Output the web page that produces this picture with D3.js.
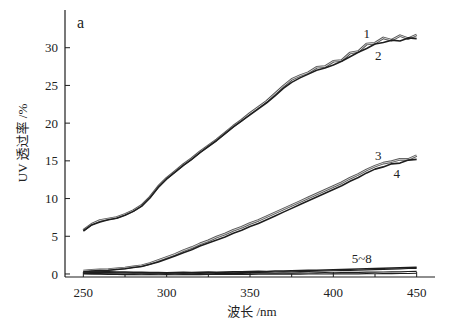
<!DOCTYPE html>
<html>
<head>
<meta charset="utf-8">
<script src="https://cdn.jsdelivr.net/npm/d3@7/dist/d3.min.js"></script>
<style>
  html, body { margin: 0; padding: 0; background: #fff; }
  svg { display: block; }
  text { font-family: "Liberation Serif", "Times New Roman", "Noto Sans CJK SC", serif; fill: #222; }
</style>
</head>
<body>
<svg id="chart" width="460" height="322"></svg>
<script>
// Wavelength grid (nm), 5 nm steps
const wavelengths = d3.range(250, 451, 5);

// UV transmittance (%) per sample
const curve1 = [5.8, 6.6, 7.1, 7.3, 7.5, 7.9, 8.4, 9.1, 10.2, 11.6, 12.7, 13.6, 14.5, 15.3, 16.2, 17.0, 17.8, 18.7, 19.6, 20.4,
  21.3, 22.1, 22.9, 23.9, 24.9, 25.8, 26.3, 26.7, 27.4, 27.5, 28.2, 28.3, 29.3, 29.5, 30.5, 30.6, 31.3, 31.0, 31.6, 31.2, 31.7];
const curve2 = [5.7, 6.5, 6.9, 7.2, 7.4, 7.8, 8.3, 9.0, 10.1, 11.5, 12.6, 13.5, 14.4, 15.2, 16.1, 16.9, 17.7, 18.6, 19.5, 20.3,
  21.1, 21.9, 22.7, 23.6, 24.6, 25.4, 26.0, 26.5, 27.0, 27.3, 27.7, 28.2, 28.8, 29.4, 29.9, 30.5, 30.7, 31.0, 30.9, 31.3, 31.2];
const curve3 = [0.4, 0.5, 0.55, 0.6, 0.7, 0.8, 0.95, 1.1, 1.4, 1.8, 2.2, 2.6, 3.1, 3.5, 4.0, 4.4, 4.9, 5.3, 5.8, 6.2,
  6.7, 7.1, 7.6, 8.1, 8.6, 9.1, 9.6, 10.1, 10.6, 11.1, 11.6, 12.1, 12.7, 13.2, 13.8, 14.3, 14.7, 14.9, 15.2, 15.2, 15.7];
const curve4 = [0.3, 0.4, 0.45, 0.5, 0.6, 0.7, 0.85, 1.0, 1.3, 1.6, 2.0, 2.4, 2.8, 3.2, 3.7, 4.1, 4.5, 4.9, 5.4, 5.8,
  6.3, 6.7, 7.2, 7.7, 8.2, 8.7, 9.2, 9.7, 10.2, 10.7, 11.2, 11.7, 12.3, 12.8, 13.4, 13.9, 14.2, 14.6, 14.7, 15.1, 15.2];
const curve5 = [0.3, 0.32, 0.3, 0.28, 0.27, 0.25, 0.24, 0.22, 0.2, 0.2, 0.18, 0.2, 0.22, 0.2, 0.24, 0.25, 0.23, 0.27, 0.3, 0.28,
  0.32, 0.35, 0.33, 0.38, 0.4, 0.42, 0.45, 0.48, 0.5, 0.52, 0.55, 0.6, 0.62, 0.65, 0.7, 0.72, 0.75, 0.8, 0.82, 0.85, 0.9];
const curve6 = [0.22, 0.2, 0.2, 0.18, 0.16, 0.15, 0.14, 0.12, 0.12, 0.1, 0.1, 0.12, 0.1, 0.14, 0.15, 0.13, 0.16, 0.18, 0.17, 0.2,
  0.22, 0.2, 0.24, 0.26, 0.28, 0.3, 0.32, 0.35, 0.36, 0.4, 0.42, 0.45, 0.48, 0.5, 0.55, 0.58, 0.6, 0.65, 0.68, 0.72, 0.75];
const curve7 = [0.08, 0.06, 0.05, 0.04, 0.02, 0.0, 0.02, 0.0, -0.02, 0.0, 0.02, 0.0, 0.03, 0.02, 0.05, 0.04, 0.06, 0.05, 0.08, 0.07,
  0.1, 0.09, 0.12, 0.1, 0.13, 0.12, 0.15, 0.14, 0.16, 0.18, 0.17, 0.2, 0.22, 0.21, 0.24, 0.25, 0.27, 0.28, 0.3, 0.32, 0.35];
const curve8 = [0.0, -0.02, -0.04, -0.05, -0.06, -0.08, -0.07, -0.1, -0.09, -0.1, -0.08, -0.1, -0.09, -0.07, -0.08, -0.06, -0.07, -0.05, -0.06, -0.04,
  -0.05, -0.03, -0.04, -0.02, -0.03, 0.0, -0.02, 0.0, 0.01, 0.0, 0.02, 0.01, 0.03, 0.02, 0.05, 0.04, 0.06, 0.05, 0.08, 0.07, 0.1];

// Axis ticks
const xMajorTicks = [250, 300, 350, 400, 450];
const xMinorTicks = [275, 325, 375, 425];
const yTicks = [0, 5, 10, 15, 20, 25, 30];

// Curve labels: text, wavelength, value
const curveLabels = [
  { text: "1", x: 420, y: 31.3 },
  { text: "2", x: 427, y: 28.4 },
  { text: "3", x: 427, y: 15.1 },
  { text: "4", x: 438, y: 12.7 },
  { text: "5~8", x: 417, y: 1.46 }
];

const svg = d3.select("#chart");
const x = d3.scaleLinear().domain([239, 461]).range([65, 435]);
const y = d3.scaleLinear().domain([-0.4, 35]).range([277, 10]);

const ink = "#1e1e1e";

// X axis: line with inward ticks
const gx = svg.append("g").attr("transform", `translate(0,${y(-0.4)})`);
gx.append("line").attr("x1", x(239)).attr("x2", x(461)).attr("stroke", ink).attr("stroke-width", 1.2);
gx.selectAll(".maj").data(xMajorTicks).join("line")
  .attr("x1", d => x(d)).attr("x2", d => x(d)).attr("y1", 0).attr("y2", -5)
  .attr("stroke", ink).attr("stroke-width", 1);
gx.selectAll(".min").data(xMinorTicks).join("line")
  .attr("x1", d => x(d)).attr("x2", d => x(d)).attr("y1", 0).attr("y2", -3)
  .attr("stroke", ink).attr("stroke-width", 1);
gx.selectAll("text").data(xMajorTicks).join("text")
  .attr("x", d => x(d)).attr("y", 20).attr("text-anchor", "middle")
  .attr("font-size", 13).text(d => d);

// Y axis: line with inward ticks
const gy = svg.append("g").attr("transform", `translate(${x(239)},0)`);
gy.append("line").attr("y1", y(-0.4)).attr("y2", y(35)).attr("stroke", ink).attr("stroke-width", 1.2);
gy.selectAll("line.t").data(yTicks).join("line").attr("class", "t")
  .attr("x1", 0).attr("x2", 5).attr("y1", d => y(d)).attr("y2", d => y(d))
  .attr("stroke", ink).attr("stroke-width", 1);
gy.selectAll("text").data(yTicks).join("text")
  .attr("x", -7).attr("y", d => y(d)).attr("dy", "0.35em").attr("text-anchor", "end")
  .attr("font-size", 13).text(d => d);

// Axis titles
svg.append("text").attr("transform", "translate(27,143) rotate(-90)")
  .attr("text-anchor", "middle").attr("font-size", 13)
  .text("UV 透过率 /%");
svg.append("text").attr("x", 252).attr("y", 316).attr("text-anchor", "middle")
  .attr("font-size", 13).text("波长 /nm");
svg.append("text").attr("x", 77).attr("y", 28).attr("font-size", 16).text("a");

// Curves
const line = d3.line().x((d, i) => x(wavelengths[i])).y(d => y(d)).curve(d3.curveLinear);

function hollow(values) {
  svg.append("path").datum(values).attr("d", line).attr("fill", "none")
    .attr("stroke", "#555").attr("stroke-width", 2.6).attr("stroke-linejoin", "round");
  svg.append("path").datum(values).attr("d", line).attr("fill", "none")
    .attr("stroke", "#eee").attr("stroke-width", 0.8).attr("stroke-linejoin", "round");
}
function solid(values, w) {
  svg.append("path").datum(values).attr("d", line).attr("fill", "none")
    .attr("stroke", ink).attr("stroke-width", w).attr("stroke-linejoin", "round");
}

[curve8, curve7, curve6].forEach(v => solid(v, 1.1));
solid(curve5, 1.5);
hollow(curve3);
solid(curve4, 1.6);
hollow(curve1);
solid(curve2, 1.6);

// Curve labels
svg.selectAll("text.lab").data(curveLabels).join("text").attr("class", "lab")
  .attr("x", d => x(d.x)).attr("y", d => y(d.y)).attr("text-anchor", "middle")
  .attr("font-size", 13).text(d => d.text);
</script>
</body>
</html>
